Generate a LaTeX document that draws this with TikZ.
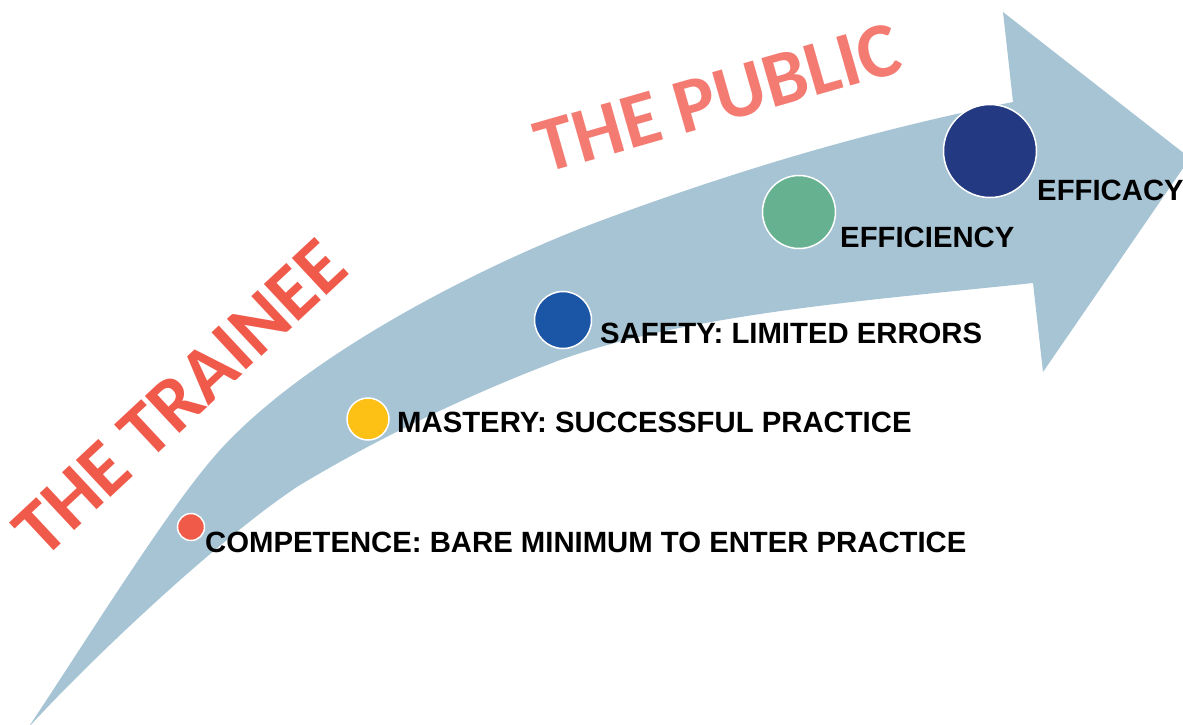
\documentclass[tikz,border=0pt]{standalone}
\usepackage{fontspec}
\newfontfamily\labfont{Liberation Sans}
\newfontfamily\titlefont{Carlito}
\definecolor{arrowblue}{HTML}{A7C4D4}
\definecolor{traineered}{HTML}{F05A4A}
\definecolor{publicred}{HTML}{F47B72}
\definecolor{dotred}{HTML}{F05A48}
\definecolor{dotyellow}{HTML}{FDC014}
\definecolor{dotblue}{HTML}{1B55A6}
\definecolor{dotgreen}{HTML}{66B290}
\definecolor{dotnavy}{HTML}{233A82}
\begin{document}
\begin{tikzpicture}[x=1pt,y=-1pt,
  lbl/.style={anchor=base west,inner sep=0pt,font=\labfont\bfseries\fontsize{29.3}{29.3}\selectfont,text=black},
  ttl/.style={inner sep=0pt,font=\titlefont\bfseries\fontsize{78}{78}\selectfont},
  dot/.style={circle,draw=white,line width=1.5pt,inner sep=0pt}]
\useasboundingbox (0,0) rectangle (1183,724);
\clip (0,0) rectangle (1183,724);
% arrow body
\fill[arrowblue] (28,728)
  .. controls (88,638) and (170,505) .. (220,450)
  .. controls (310,351) and (490,262) .. (600,221)
  .. controls (740,169) and (873,130) .. (1013,102)
  -- (1003,12) -- (1190,158) -- (1043,372) -- (1033,283)
  .. controls (883,299) and (690,313) .. (560,360)
  .. controls (470,394) and (380,437) .. (300,485)
  .. controls (220,537) and (88,662) .. (28,728) -- cycle;
% titles
\node[ttl,text=traineered,rotate=43] (trainee) at (180,398) {THE TRAINEE};
\node[ttl,text=publicred,rotate=16] (public) at (718,98) {THE PUBLIC};
% dots
\node[dot,fill=dotred,minimum size=27pt] (d1) at (191,527) {};
\node[dot,fill=dotyellow,minimum size=42pt] (d2) at (368,419) {};
\node[dot,fill=dotblue,minimum size=57pt] (d3) at (563,320) {};
\node[dot,fill=dotgreen,minimum size=73pt] (d4) at (799,212) {};
\node[dot,fill=dotnavy,minimum size=93pt] (d5) at (990,151) {};
% labels
\node[lbl] (l1) at (205,552) {COMPETENCE: BARE MINIMUM TO ENTER PRACTICE};
\node[lbl] (l2) at (397,432) {MASTERY: SUCCESSFUL PRACTICE};
\node[lbl] (l3) at (600,343) {SAFETY: LIMITED ERRORS};
\node[lbl] (l4) at (840,247) {EFFICIENCY};
\node[lbl] (l5) at (1037,200) {EFFICACY};
\end{tikzpicture}
\end{document}
